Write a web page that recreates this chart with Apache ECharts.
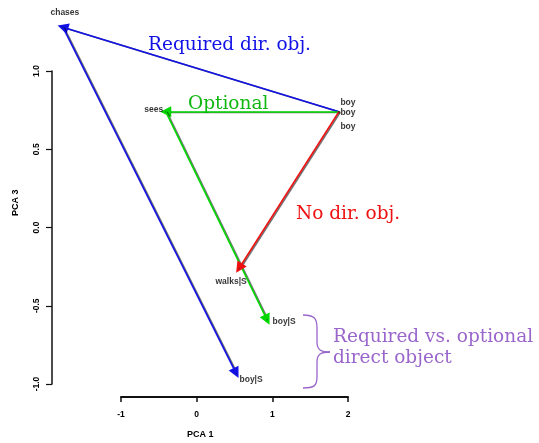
<!DOCTYPE html>
<html>
<head>
<meta charset="utf-8">
<script src="https://cdn.jsdelivr.net/npm/echarts@6/dist/echarts.min.js"></script>
<style>html,body{margin:0;padding:0;background:#fff}#c{width:539px;height:443px}</style>
</head>
<body>
<div id="c"></div>
<script>
// ---- data ----
const pointNames = ['chases', 'boy', 'boy', 'boy', 'sees', 'walks|S', 'boy|S', 'boy|S'];
const pca1 = [-1.77, 1.88, 1.88, 1.88, -0.41, 0.56, 0.93, 0.52];
const pca3 = [1.28, 0.74, 0.74, 0.73, 0.74, -0.26, -0.59, -0.93];
const arrowFrom = [1, 0, 1, 4, 1];
const arrowTo = [0, 7, 4, 6, 5];
const arrowGroup = ['required', 'required', 'optional', 'optional', 'none'];

// ---- styles ----
const groupColor = { required: '#1212e6', optional: '#00d800', none: '#ee1111' };
const labelPlace = [
  { position: 'inside', offset: [2, -15] },
  { position: 'right', distance: 1, offset: [0, -9] },
  { position: 'right', distance: 1, offset: [0, 1] },
  { position: 'right', distance: 1, offset: [0, 13] },
  { position: 'left', distance: 2, offset: [0, -2] },
  { position: 'inside', offset: [-8, 13] },
  { position: 'inside', offset: [17, 2] },
  { position: 'inside', offset: [15, 7] }
];
const ptFont = { fontFamily: 'Liberation Sans', fontWeight: 'bold', fontSize: 8.5, color: '#000' };

const chart = echarts.init(document.getElementById('c'), null, { renderer: 'canvas' });

const pts = pointNames.map((n, i) => ({
  name: n,
  value: [pca1[i], pca3[i]],
  label: Object.assign({ show: true, formatter: n }, ptFont, labelPlace[i])
}));

const arrowSeries = arrowFrom.map((f, k) => ({
  type: 'lines',
  coordinateSystem: 'cartesian2d',
  xAxisIndex: 0, yAxisIndex: 0,
  symbol: ['none', 'triangle'],
  symbolSize: 11,
  silent: true,
  lineStyle: {
    color: groupColor[arrowGroup[k]],
    width: 1.6,
    opacity: 1,
    shadowColor: 'rgba(0,0,0,0.55)',
    shadowOffsetX: 1.3,
    shadowOffsetY: 0.5,
    shadowBlur: 0
  },
  z: 3,
  data: [{ coords: [[pca1[f], pca3[f]], [pca1[arrowTo[k]], pca3[arrowTo[k]]]] }]
}));

const fmt = v => (Math.abs(v) < 1e-9 ? '0.0' : v.toFixed(1));
const purple = '#9a66cc';
const braceStyle = { fill: 'none', stroke: purple, lineWidth: 1.3 };
const annFont = 'DejaVu Serif';
const annSize = 18.5;

chart.setOption({
  animation: false,
  grid: [
    { left: 52, right: 191, top: 10, bottom: 46 },
    { left: 121, right: 191, top: 300, bottom: 46 },
    { left: 52, top: 71, bottom: 59, width: 20 }
  ],
  xAxis: [
    { gridIndex: 0, type: 'value', min: -1.914, max: 2, show: false },
    { gridIndex: 1, type: 'value', min: -1, max: 2, interval: 1,
      axisLine: { show: true, lineStyle: { color: '#111', width: 2 } },
      axisTick: { show: true, length: 5, lineStyle: { color: '#111', width: 1.5 } },
      splitLine: { show: false },
      axisLabel: { margin: 13, fontFamily: 'Liberation Sans', fontWeight: 'bold', fontSize: 8.5, color: '#000',
        formatter: v => String(v) } },
    { gridIndex: 2, type: 'value', show: false }
  ],
  yAxis: [
    { gridIndex: 0, type: 'value', min: -1.083, max: 1.39, show: false },
    { gridIndex: 1, type: 'value', show: false },
    { gridIndex: 2, type: 'value', min: -1, max: 1, interval: 0.5,
      axisLine: { show: true, lineStyle: { color: '#111', width: 1.5 } },
      axisTick: { show: true, length: 6, lineStyle: { color: '#111', width: 1.2 } },
      splitLine: { show: false },
      axisLabel: { rotate: 90, margin: 11, fontFamily: 'Liberation Sans', fontWeight: 'bold', fontSize: 8.5, color: '#000',
        formatter: fmt } }
  ],
  series: [
    ...arrowSeries,
    { type: 'scatter', xAxisIndex: 0, yAxisIndex: 0, symbolSize: 1, itemStyle: { color: '#111' },
      z: 5, silent: true, data: pts },
    { type: 'scatter', xAxisIndex: 1, yAxisIndex: 1, data: [] },
    { type: 'scatter', xAxisIndex: 2, yAxisIndex: 2, data: [] }
  ],
  graphic: [
    { type: 'text', x: 187, y: 430, style: { text: 'PCA 1', fontFamily: 'Liberation Sans', fontWeight: 'bold', fontSize: 9, fill: '#000' } },
    { type: 'text', x: 11, y: 216, rotation: Math.PI / 2, style: { text: 'PCA 3', fontFamily: 'Liberation Sans', fontWeight: 'bold', fontSize: 9, fill: '#000' } },
    { type: 'text', x: 148, y: 36, style: { text: 'Required dir. obj.', fontFamily: annFont, fontSize: annSize, fill: '#1212e6' } },
    { type: 'text', x: 188, y: 95, style: { text: 'Optional', fontFamily: annFont, fontSize: annSize, fill: '#12b812' } },
    { type: 'text', x: 296, y: 205, style: { text: 'No dir. obj.', fontFamily: annFont, fontSize: annSize, fill: '#ee1111' } },
    { type: 'text', x: 333, y: 327, style: { text: 'Required vs. optional\ndirect object', lineHeight: 21, fontFamily: annFont, fontSize: annSize, fill: purple } },
    { type: 'bezierCurve', shape: { x1: 303, y1: 315, cpx1: 314, cpy1: 315, cpx2: 317, cpy2: 318, x2: 317, y2: 328 }, style: braceStyle },
    { type: 'line', shape: { x1: 317, y1: 328, x2: 317, y2: 342 }, style: braceStyle },
    { type: 'bezierCurve', shape: { x1: 317, y1: 342, cpx1: 317, cpy1: 350, cpx2: 321, cpy2: 352, x2: 330, y2: 352 }, style: braceStyle },
    { type: 'bezierCurve', shape: { x1: 330, y1: 352, cpx1: 321, cpy1: 352, cpx2: 317, cpy2: 354, x2: 317, y2: 362 }, style: braceStyle },
    { type: 'line', shape: { x1: 317, y1: 362, x2: 317, y2: 377 }, style: braceStyle },
    { type: 'bezierCurve', shape: { x1: 317, y1: 377, cpx1: 317, cpy1: 386, cpx2: 314, cpy2: 388, x2: 303, y2: 388 }, style: braceStyle }
  ]
});
</script>
</body>
</html>
